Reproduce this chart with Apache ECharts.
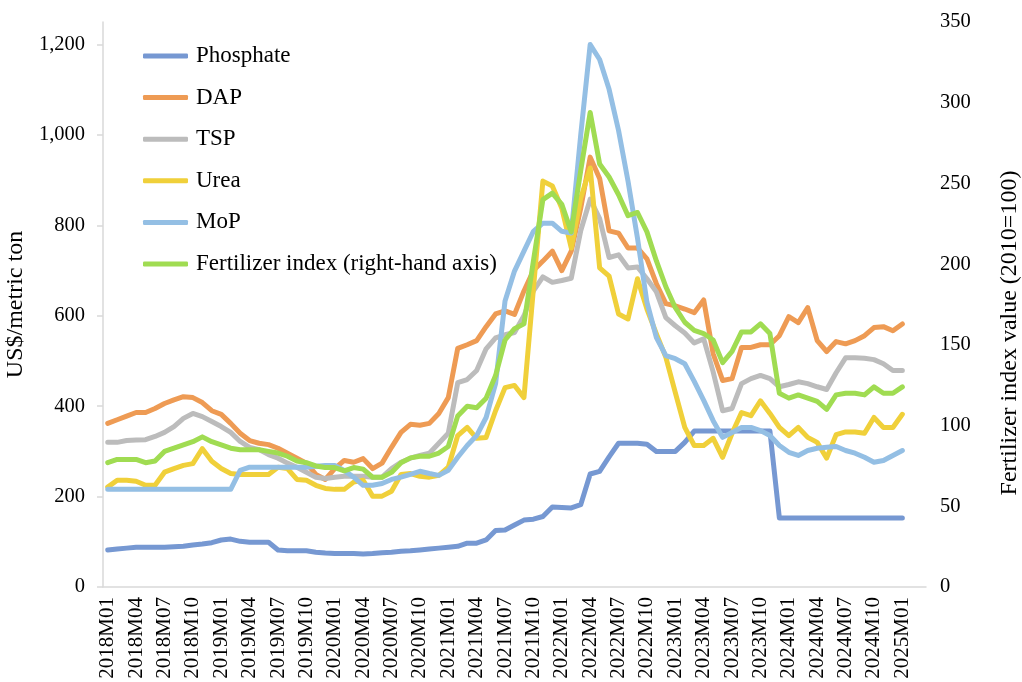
<!DOCTYPE html>
<html>
<head>
<meta charset="utf-8">
<script src="https://cdn.jsdelivr.net/npm/echarts@6/dist/echarts.min.js"></script>
<style>
html,body{margin:0;padding:0;background:#fff;}
#chart{width:1022px;height:682px;}
</style>
</head>
<body>
<div id="chart"></div>
<script>
// Monthly categories 2018M01 .. 2025M03 (axis extends two months past the data)
const categories = [
  '2018M01','2018M02','2018M03','2018M04','2018M05','2018M06','2018M07','2018M08','2018M09','2018M10','2018M11','2018M12',
  '2019M01','2019M02','2019M03','2019M04','2019M05','2019M06','2019M07','2019M08','2019M09','2019M10','2019M11','2019M12',
  '2020M01','2020M02','2020M03','2020M04','2020M05','2020M06','2020M07','2020M08','2020M09','2020M10','2020M11','2020M12',
  '2021M01','2021M02','2021M03','2021M04','2021M05','2021M06','2021M07','2021M08','2021M09','2021M10','2021M11','2021M12',
  '2022M01','2022M02','2022M03','2022M04','2022M05','2022M06','2022M07','2022M08','2022M09','2022M10','2022M11','2022M12',
  '2023M01','2023M02','2023M03','2023M04','2023M05','2023M06','2023M07','2023M08','2023M09','2023M10','2023M11','2023M12',
  '2024M01','2024M02','2024M03','2024M04','2024M05','2024M06','2024M07','2024M08','2024M09','2024M10','2024M11','2024M12',
  '2025M01','2025M02','2025M03'
];

const phosphate = [
  82,84,86,88,88,88,88,89,90,93,95,98,
  104,106,101,99,99,99,82,80,80,80,77,75,
  74,74,74,73,74,76,77,79,80,82,84,86,
  88,90,97,97,104,125,126,137,148,150,156,177,
  176,175,182,250,256,288,318,318,318,316,300,300,
  300,320,345,345,345,345,345,345,345,345,345,152.5,
  152.5,152.5,152.5,152.5,152.5,152.5,152.5,152.5,152.5,152.5,152.5,152.5,
  152.5
];
const dap = [
  362,370,378,386,386,395,406,414,421,419,408,390,
  382,362,340,324,318,315,307,296,285,274,249,238,
  262,280,276,284,262,274,309,342,360,358,362,384,
  419,528,536,545,576,604,611,603,655,700,721,743,
  700,743,838,951,904,788,783,750,750,726,671,627,
  622,615,607,635,516,457,461,530,530,536,536,556,
  598,585,618,545,521,543,538,545,556,574,576,567,
  582
];
const tsp = [
  320,320,324,325,326,333,342,355,373,384,377,366,
  355,342,322,309,304,293,285,274,265,254,243,240,
  243,245,245,245,243,243,262,276,285,291,296,318,
  340,452,459,479,527,551,558,563,600,655,686,674,
  678,683,788,858,815,729,735,706,708,682,653,596,
  578,562,540,549,476,390,395,450,461,468,461,443,
  448,454,450,443,437,474,507,507,506,503,494,479,
  479
];
const urea = [
  221,236,236,234,225,225,254,262,269,273,306,278,
  262,251,249,249,249,249,265,262,238,236,225,218,
  216,216,232,236,201,201,212,249,251,245,243,247,
  265,335,353,329,331,390,441,446,419,660,898,887,
  838,750,860,927,706,688,604,593,682,615,560,508,
  430,353,313,313,329,287,340,386,379,412,384,353,
  335,353,331,320,285,337,343,343,340,375,353,353,
  382
];
const mop = [
  216,216,216,216,216,216,216,216,216,216,216,216,
  216,216,258,265,265,265,265,265,265,265,267,269,
  269,258,243,225,225,229,238,243,249,256,251,247,
  258,287,313,335,375,450,633,699,743,787,805,805,
  787,783,1000,1200,1167,1101,1010,898,772,630,552,512,
  505,494,455,413,368,331,342,353,353,346,335,313,
  298,291,302,307,309,311,302,296,287,276,280,291,
  302
];
const fertIndex = [
  77,79,79,79,77,78,84,86,88,90,93,90,
  88,86,85,85,85,84,83,81,78,77,75,74,
  74,72,74,73,68,68,71,77,80,81,81,83,
  87,106,112,111,117,131,153,160,163,202,240,244,
  237,220,258,294,262,254,243,230,232,220,202,186,
  173,164,159,157,153,139,146,158,158,163,157,120,
  117,119,117,115,110,119,120,120,119,124,120,120,
  124
];

const leftTicks = [0,200,400,600,800,1000,1200];
const seriesNames = ['Phosphate','DAP','TSP','Urea','MoP','Fertilizer index (right-hand axis)'];
const colors = ['#7698D2','#EE9B54','#BCBCBC','#F0D03A','#94BFE4','#A0DC52'];
const leftTitle = 'US$/metric ton';
const rightTitle = 'Fertilizer index value (2010=100)';

const FONT = '"Liberation Serif", "Times New Roman", serif';
const chart = echarts.init(document.getElementById('chart'));

function mk(name, data, color, yIndex){
  return {
    name: name, type: 'line', data: data, yAxisIndex: yIndex,
    symbol: 'none', smooth: false,
    lineStyle: {color: color, width: 5, cap: 'round', join: 'round'},
    itemStyle: {color: color},
    emphasis: {disabled: true}
  };
}

chart.setOption({
  animation: false,
  backgroundColor: '#ffffff',
  textStyle: {fontFamily: FONT, color: '#000'},
  grid: {left: 103, right: 96, top: 22, bottom: 95, containLabel: false, outerBoundsMode: 'none'},
  legend: {
    orient: 'vertical', left: 138, top: 38,
    itemWidth: 45, itemHeight: 5, itemGap: 15.6,
    icon: 'roundRect',
    data: seriesNames,
    textStyle: {fontFamily: FONT, fontSize: 23, color: '#000', lineHeight: 26, padding: [0,0,0,3]}
  },
  graphic: [
    {
      type: 'text', x: 1010, y: 333, rotation: Math.PI / 2,
      style: {text: rightTitle, font: '24px ' + FONT, fill: '#000', align: 'center', verticalAlign: 'middle'}
    }
  ],
  xAxis: {
    type: 'category', data: categories, boundaryGap: true,
    axisLine: {show: true, lineStyle: {color: '#d9d9d9', width: 1.5}},
    axisTick: {show: false},
    axisLabel: {
      interval: 2, rotate: 90, margin: 10,
      fontFamily: FONT, fontSize: 21, color: '#000'
    },
    splitLine: {show: false}
  },
  yAxis: [
    {
      type: 'value', min: 0, max: 1250, position: 'left',
      name: leftTitle, nameLocation: 'middle', nameRotate: 90, nameGap: 70,
      nameTextStyle: {fontFamily: FONT, fontSize: 24, color: '#000'},
      axisLine: {show: true, lineStyle: {color: '#d9d9d9', width: 1.5}},
      axisTick: {show: true, inside: false, length: 6, customValues: leftTicks, lineStyle: {color: '#d9d9d9', width: 1.5}},
      axisLabel: {
        customValues: leftTicks, margin: 18,
        fontFamily: FONT, fontSize: 20.5, color: '#000',
        formatter: v => v.toLocaleString('en-US')
      },
      splitLine: {show: false}
    },
    {
      type: 'value', min: 0, max: 350, interval: 50, position: 'right',
      axisLine: {show: false},
      axisTick: {show: false},
      axisLabel: {margin: 14, fontFamily: FONT, fontSize: 20.5, color: '#000'},
      splitLine: {show: false}
    }
  ],
  series: [
    mk(seriesNames[0], phosphate, colors[0], 0),
    mk(seriesNames[1], dap, colors[1], 0),
    mk(seriesNames[2], tsp, colors[2], 0),
    mk(seriesNames[3], urea, colors[3], 0),
    mk(seriesNames[4], mop, colors[4], 0),
    mk(seriesNames[5], fertIndex, colors[5], 1)
  ]
});
</script>
</body>
</html>
